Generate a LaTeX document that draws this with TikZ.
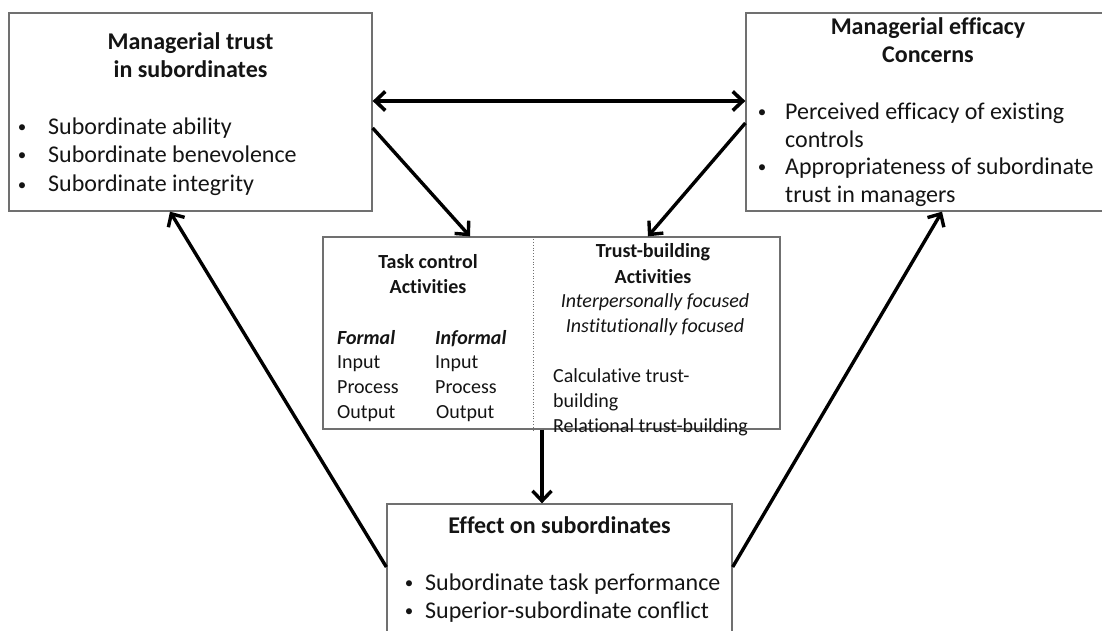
\documentclass[tikz,border=0pt]{standalone}
\usepackage{fontspec}
\setmainfont{Carlito}[RawFeature={-liga;-clig;-calt;-dlig}]
\usetikzlibrary{arrows.meta}
\definecolor{boxgray}{RGB}{112,112,112}
\definecolor{ink}{RGB}{20,20,20}
\begin{document}
\begin{tikzpicture}[x=1pt,y=-1pt,
  >={Straight Barb[length=10pt,width=19pt]},
  box/.style={draw=boxgray, line width=1.3pt, rectangle, inner sep=0pt},
  link/.style={line width=3.4pt, ->},
  twoway/.style={line width=3.6pt, <->},
  big/.style={font=\fontsize{24}{29}\selectfont, inner sep=0pt, text=ink},
  dot/.style={font=\fontsize{17}{29}\selectfont, inner sep=0pt, text=ink},
  small/.style={font=\fontsize{20}{24}\selectfont, inner sep=0pt, text=ink},
  divider/.style={draw=boxgray, line width=0.8pt, dotted},
]
\clip (0,0) rectangle (1102,631);

% the four boxes
\node[box, minimum width=363pt, minimum height=198pt] (lt) at (190.5,112) {};
\node[box, minimum width=364pt, minimum height=198pt] (rt) at (928,112) {};
\node[box, minimum width=457pt, minimum height=192pt] (mid) at (551.5,333) {};
\node[box, minimum width=345pt, minimum height=156pt] (bot) at (559.5,582) {};

% dotted divider inside the middle box
\draw[divider] ([xshift=-18.5pt]mid.north) -- ([xshift=-18.5pt]mid.south);

% managerial trust
\node[big, font=\fontsize{24}{29}\selectfont\bfseries, anchor=base] (lt1) at (190.5,50) {Managerial trust};
\node[big, font=\fontsize{24}{29}\selectfont\bfseries, anchor=base] (lt2) at (190.5,78) {in subordinates};
\node[dot, anchor=base] (ltb1) at (22,133) {•};
\node[dot, anchor=base] (ltb2) at (22,161) {•};
\node[dot, anchor=base] (ltb3) at (22,190) {•};
\node[big, anchor=base west] (ltl1) at (48,135) {Subordinate ability};
\node[big, anchor=base west] (ltl2) at (48,163) {Subordinate benevolence};
\node[big, anchor=base west] (ltl3) at (48,192) {Subordinate integrity};

% managerial efficacy
\node[big, font=\fontsize{24}{29}\selectfont\bfseries, anchor=base] (rt1) at (928,35) {Managerial efficacy};
\node[big, font=\fontsize{24}{29}\selectfont\bfseries, anchor=base] (rt2) at (928,63) {Concerns};
\node[dot, anchor=base] (rtb1) at (762,118) {•};
\node[dot, anchor=base] (rtb2) at (762,173) {•};
\node[big, anchor=base west] (rtl1) at (785,120) {Perceived efficacy of existing};
\node[big, anchor=base west] (rtl2) at (785,148) {controls};
\node[big, anchor=base west] (rtl3) at (785,175) {Appropriateness of subordinate};
\node[big, anchor=base west] (rtl4) at (785,203) {trust in managers};

% task control activities
\node[small, font=\fontsize{20}{24}\selectfont\bfseries, anchor=base] (tc1) at (428,268) {Task control};
\node[small, font=\fontsize{20}{24}\selectfont\bfseries, anchor=base] (tc2) at (428,293) {Activities};
\node[small, font=\fontsize{20}{24}\selectfont\bfseries\itshape, anchor=base west] (fh) at (337,344) {Formal};
\node[small, anchor=base west] (f1) at (337,368) {Input};
\node[small, anchor=base west] (f2) at (337,393) {Process};
\node[small, anchor=base west] (f3) at (337,418) {Output};
\node[small, font=\fontsize{20}{24}\selectfont\bfseries\itshape, anchor=base west] (ih) at (435,344) {Informal};
\node[small, anchor=base west] (i1) at (435,368) {Input};
\node[small, anchor=base west] (i2) at (435,393) {Process};
\node[small, anchor=base west] (i3) at (436,418) {Output};

% trust-building activities
\node[small, font=\fontsize{20}{24}\selectfont\bfseries, anchor=base] (tb1) at (653,257) {Trust-building};
\node[small, font=\fontsize{20}{24}\selectfont\bfseries, anchor=base] (tb2) at (653,283) {Activities};
\node[small, font=\fontsize{20}{24}\selectfont\itshape, anchor=base] (tb3) at (655,307) {Interpersonally focused};
\node[small, font=\fontsize{20}{24}\selectfont\itshape, anchor=base] (tb4) at (655,332) {Institutionally focused};
\node[small, anchor=base west] (tb5) at (553,382) {Calculative trust-};
\node[small, anchor=base west] (tb6) at (553,407) {building};
\node[small, anchor=base west] (tb7) at (553,432) {Relational trust-building};

% effect on subordinates
\node[big, font=\fontsize{24}{29}\selectfont\bfseries, anchor=base] (bt1) at (559.5,533) {Effect on subordinates};
\node[dot, anchor=base] (btb1) at (409,588) {•};
\node[dot, anchor=base] (btb2) at (409,616) {•};
\node[big, anchor=base west] (btl1) at (425,590) {Subordinate task performance};
\node[big, anchor=base west] (btl2) at (425,618) {Superior-subordinate conflict};

% connectors
\draw[twoway] ([yshift=11pt]lt.east) -- ([yshift=11pt]rt.west);
\draw[link] ([yshift=-16pt]lt.east) -- ([xshift=-81.5pt]mid.north);
\draw[link] ([yshift=-11pt]rt.west) -- ([xshift=96.5pt]mid.north);
\draw[link] ([xshift=-9.5pt]mid.south) -- ([xshift=-17.5pt]bot.north);
\draw[link] ([yshift=15pt]bot.west) -- ([xshift=-20.5pt]lt.south);
\draw[link] ([yshift=15pt]bot.east) -- ([xshift=14pt]rt.south);
\end{tikzpicture}
\end{document}
